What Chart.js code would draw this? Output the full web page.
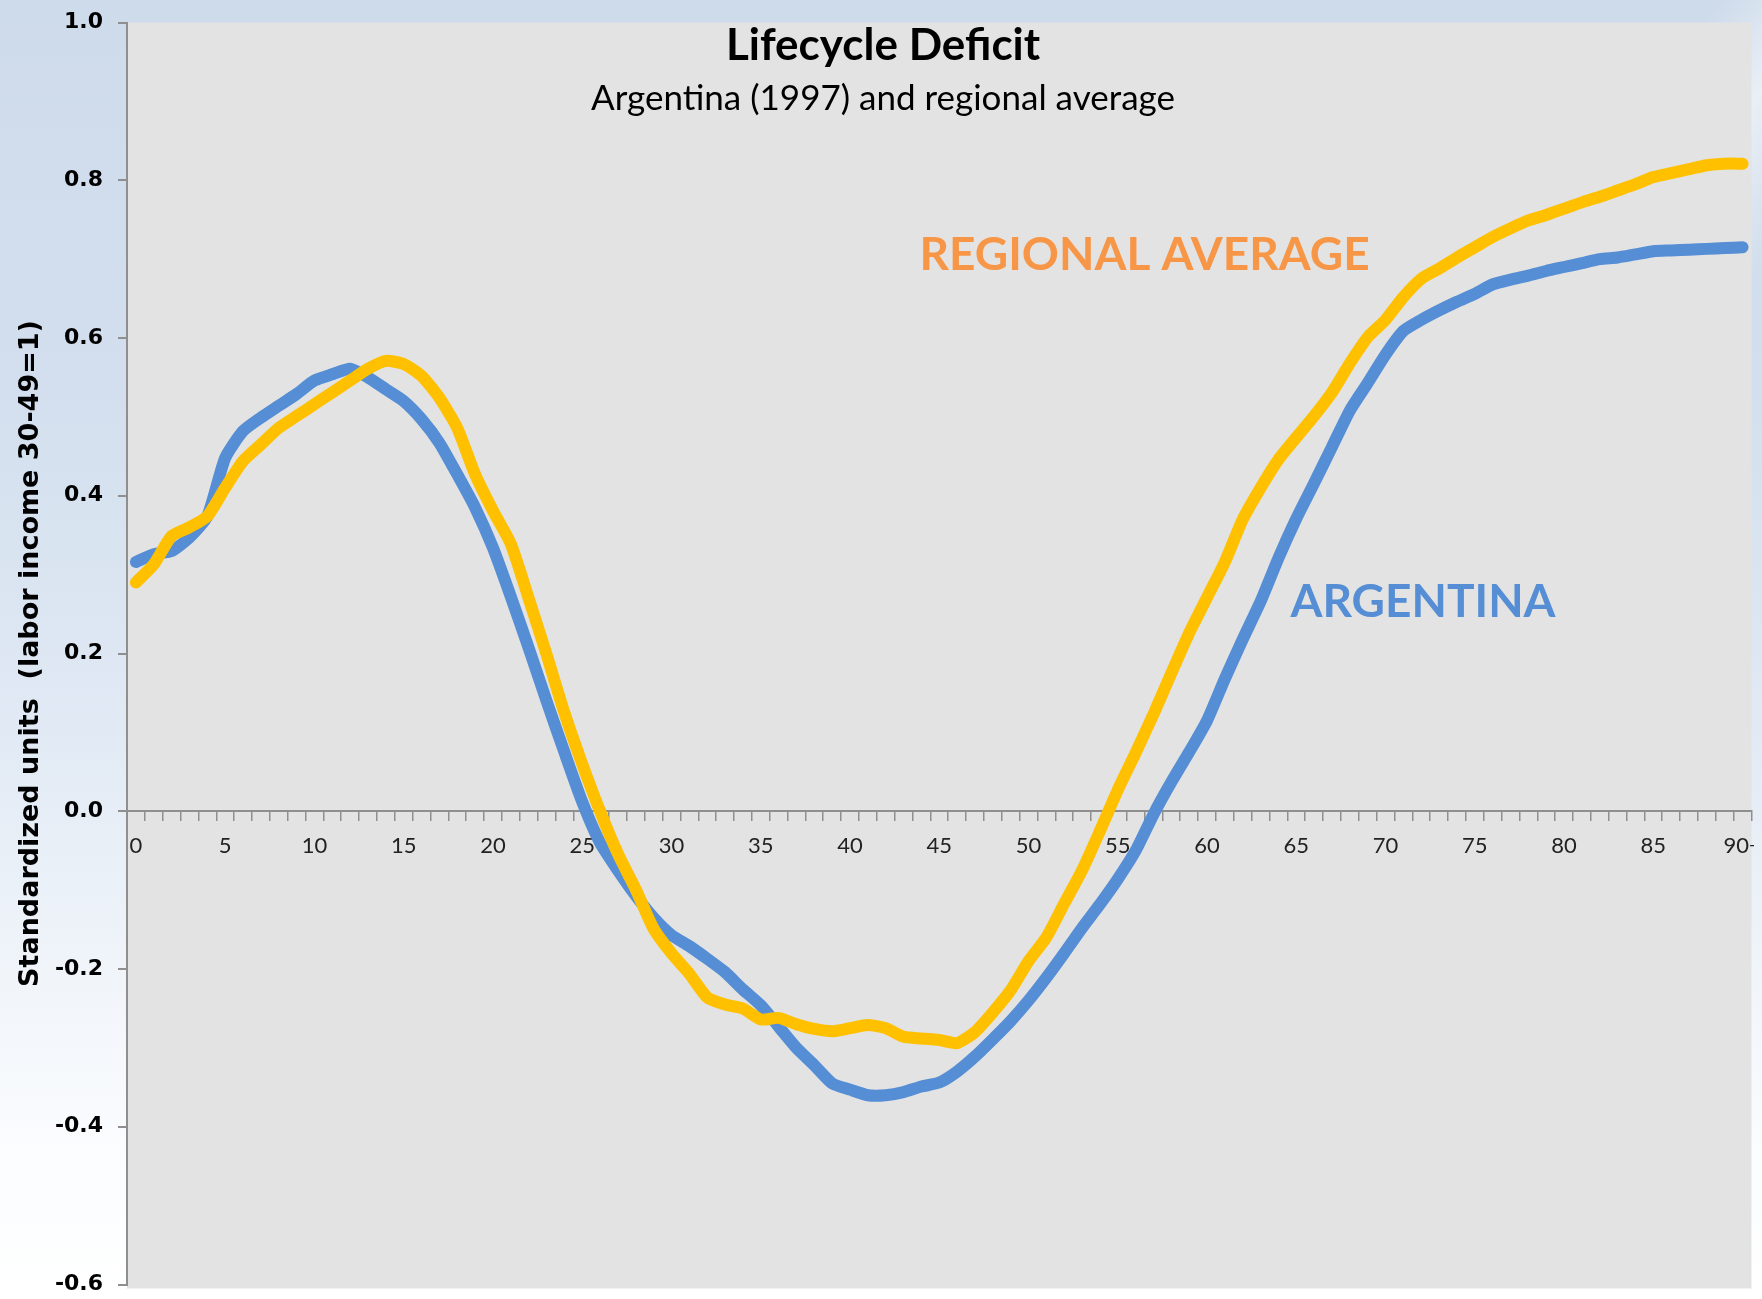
<!DOCTYPE html>
<html>
<head>
<meta charset="utf-8">
<title>Lifecycle Deficit</title>
<script src="https://cdn.jsdelivr.net/npm/chart.js@4.4.1/dist/chart.umd.min.js"></script>
<style>
  html, body { margin: 0; padding: 0; }
  body {
    width: 1762px; height: 1299px; overflow: hidden;
    background:
      linear-gradient(128deg, rgba(255,255,255,0) 0%, rgba(255,255,255,0) 62%, rgba(255,255,255,0.55) 66%, rgba(255,255,255,0) 71%),
      linear-gradient(180deg, #cedbeb 0%, #d3dfee 30%, #e0e9f4 55%, #eef3f9 72%, #fafcfe 88%, #ffffff 100%);
  }
  #lcd { display: block; clip-path: inset(0 8px 0 0); }
</style>
</head>
<body>
<canvas id="lcd" width="1762" height="1299"></canvas>
<script>
// 年齢カテゴリ (最後は 90+)
const ages = ['0','1','2','3','4','5','6','7','8','9',
  '10','11','12','13','14','15','16','17','18','19',
  '20','21','22','23','24','25','26','27','28','29',
  '30','31','32','33','34','35','36','37','38','39',
  '40','41','42','43','44','45','46','47','48','49',
  '50','51','52','53','54','55','56','57','58','59',
  '60','61','62','63','64','65','66','67','68','69',
  '70','71','72','73','74','75','76','77','78','79',
  '80','81','82','83','84','85','86','87','88','89','90+'];

// 表示する目盛りラベル
const xTickLabels = ['0','5','10','15','20','25','30','35','40','45','50','55','60','65','70','75','80','85','90+'];

// Argentina (1997)
const argentina = [
  0.316, 0.326, 0.330, 0.347, 0.374, 0.448, 0.482, 0.499, 0.514, 0.529,
  0.546, 0.554, 0.561, 0.550, 0.535, 0.520, 0.497, 0.467, 0.427, 0.385,
  0.334, 0.272, 0.207, 0.140, 0.075, 0.012, -0.040, -0.075, -0.107, -0.135,
  -0.157, -0.171, -0.187, -0.204, -0.226, -0.246, -0.273, -0.300, -0.322, -0.345,
  -0.353, -0.360, -0.360, -0.356, -0.349, -0.344, -0.330, -0.311, -0.289, -0.266,
  -0.240, -0.211, -0.180, -0.148, -0.118, -0.086, -0.050, -0.004, 0.037, 0.075,
  0.115, 0.168, 0.218, 0.266, 0.321, 0.371, 0.416, 0.462, 0.508, 0.543,
  0.579, 0.609, 0.623, 0.635, 0.646, 0.656, 0.668, 0.674, 0.679, 0.685,
  0.690, 0.695, 0.700, 0.702, 0.706, 0.710, 0.711, 0.712, 0.713, 0.714,
  0.715
];

// regional average
const regional = [
  0.290, 0.313, 0.349, 0.360, 0.374, 0.410, 0.444, 0.465, 0.486, 0.501,
  0.516, 0.531, 0.546, 0.561, 0.571, 0.567, 0.552, 0.524, 0.486, 0.427,
  0.381, 0.339, 0.270, 0.199, 0.125, 0.060, 0.000, -0.054, -0.099, -0.149,
  -0.180, -0.206, -0.236, -0.245, -0.250, -0.264, -0.262, -0.270, -0.276, -0.279,
  -0.275, -0.271, -0.275, -0.286, -0.288, -0.290, -0.294, -0.280, -0.255, -0.227,
  -0.190, -0.160, -0.117, -0.075, -0.025, 0.027, 0.074, 0.123, 0.175, 0.226,
  0.271, 0.316, 0.370, 0.410, 0.446, 0.474, 0.501, 0.531, 0.568, 0.601,
  0.623, 0.652, 0.675, 0.688, 0.702, 0.715, 0.728, 0.739, 0.749, 0.756,
  0.764, 0.772, 0.779, 0.787, 0.795, 0.804, 0.809, 0.814, 0.819, 0.821,
  0.821
];

const BLUE_LINE = '#558ed5';
const YELLOW_LINE = '#ffc000';
const ORANGE_TEXT = '#f79646';
const AXIS_GREY = '#8f8f8f';

// 図中テキスト (位置はデータ座標)
const notes = [
  { text: 'Lifecycle Deficit', age: 41.85, value: 0.970, font: 'bold 44px Lato', color: '#000' },
  { text: 'Argentina (1997) and regional average', age: 41.85, value: 0.903, font: '35px Lato', color: '#000' },
  { text: 'REGIONAL AVERAGE', age: 56.5, value: 0.705, font: 'bold 46px Lato', color: ORANGE_TEXT },
  { text: 'ARGENTINA', age: 72.1, value: 0.265, font: 'bold 46px Lato', color: BLUE_LINE }
];

// プロットエリア背景
const plotBackground = {
  id: 'plotBackground',
  beforeDraw(chart) {
    const {ctx, chartArea: a} = chart;
    ctx.save();
    ctx.fillStyle = '#e3e3e3';
    ctx.fillRect(a.left, a.top, a.right - a.left, a.bottom - a.top + 4);
    ctx.restore();
  }
};

// タイトルとラベル
const chartNotes = {
  id: 'chartNotes',
  afterDatasetsDraw(chart) {
    const {ctx, scales: {x, y}} = chart;
    ctx.save();
    ctx.textAlign = 'center';
    ctx.textBaseline = 'middle';
    notes.forEach(function(n) {
      ctx.font = n.font;
      ctx.fillStyle = n.color;
      ctx.fillText(n.text, x.getPixelForValue(n.age), y.getPixelForValue(n.value));
    });
    ctx.restore();
  }
};

new Chart(document.getElementById('lcd').getContext('2d'), {
  type: 'line',
  data: {
    labels: ages,
    datasets: [
      {
        label: 'Regional average',
        data: regional,
        borderColor: YELLOW_LINE,
        backgroundColor: YELLOW_LINE,
        borderWidth: 12,
        pointRadius: 0,
        tension: 0.2,
        borderCapStyle: 'round',
        borderJoinStyle: 'round',
        fill: false
      },
      {
        label: 'Argentina',
        data: argentina,
        borderColor: BLUE_LINE,
        backgroundColor: BLUE_LINE,
        borderWidth: 12,
        pointRadius: 0,
        tension: 0.2,
        borderCapStyle: 'round',
        borderJoinStyle: 'round',
        fill: false
      }
    ]
  },
  options: {
    responsive: false,
    animation: false,
    layout: { padding: { top: 22.5, bottom: 14.5, left: 0, right: 10.5 } },
    plugins: {
      legend: { display: false },
      tooltip: { enabled: false }
    },
    scales: {
      x: {
        type: 'category',
        position: { y: 0 },
        offset: true,
        afterFit: function(scale) { scale.paddingLeft = 0; scale.paddingRight = 0; },
        grid: {
          offset: true,
          drawOnChartArea: false,
          drawTicks: true,
          tickLength: 9,
          color: AXIS_GREY,
          lineWidth: 1.5
        },
        border: { display: true, color: AXIS_GREY, width: 2 },
        ticks: {
          autoSkip: false,
          maxRotation: 0,
          padding: 12,
          color: '#222',
          font: { family: 'Lato', size: 22 },
          callback: function(value, index) {
            const lab = ages[index];
            return xTickLabels.indexOf(lab) >= 0 ? lab : '';
          }
        }
      },
      y: {
        min: -0.6,
        max: 1.0,
        afterFit: function(scale) {
          scale.width = 127;
          scale.paddingTop = 0;
          scale.paddingBottom = 0;
        },
        grid: {
          drawOnChartArea: false,
          drawTicks: true,
          tickLength: 9,
          color: AXIS_GREY,
          lineWidth: 2
        },
        border: { display: true, color: AXIS_GREY, width: 2 },
        ticks: {
          stepSize: 0.2,
          padding: 15,
          color: '#000',
          font: { family: 'DejaVu Sans', size: 22, weight: 'bold' },
          callback: function(v) {
            return Math.abs(v) < 1e-9 ? '0.0' : Number(v).toFixed(1);
          }
        },
        title: {
          display: true,
          text: 'Standardized units  (labor income 30-49=1)',
          color: '#000',
          font: { family: 'DejaVu Sans', size: 27, weight: 'bold' },
          padding: { top: 15, bottom: 0 }
        }
      }
    }
  },
  plugins: [plotBackground, chartNotes]
});
</script>
</body>
</html>
